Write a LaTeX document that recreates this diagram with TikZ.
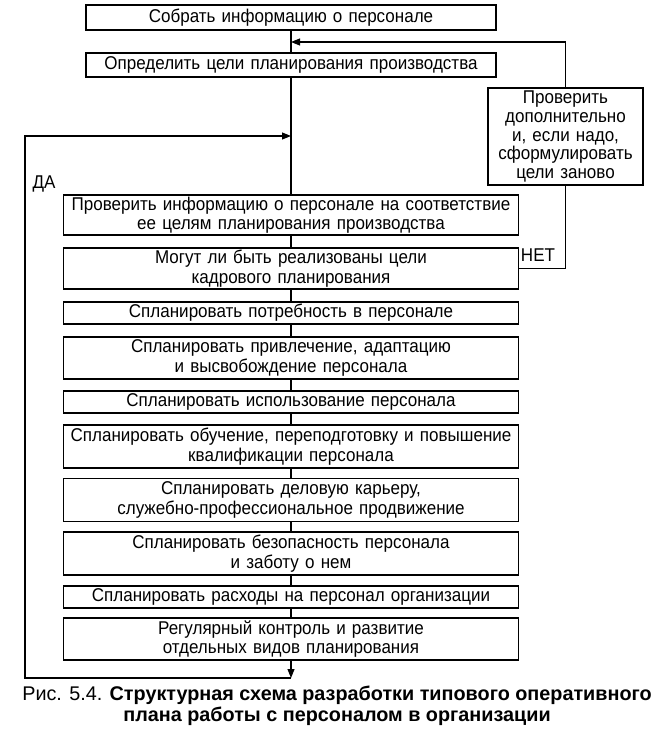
\documentclass[tikz,border=0pt]{standalone}
\usepackage{fontspec}
\setmainfont{Liberation Sans}
\newfontfamily\narrowfont[FakeStretch=0.92]{Liberation Sans}
\usetikzlibrary{arrows.meta}

\tikzset{
  stepbox/.style={draw, line width=1.3pt, align=center, inner xsep=1pt, inner ysep=0pt,
    font=\narrowfont\fontsize{18.5}{19.5}\selectfont},
  widebox/.style={stepbox, text width=453pt},
  flow/.style={line width=1.1pt},
  tip/.style={-{Triangle[length=9pt,width=7pt]}},
  answer/.style={font=\narrowfont\fontsize{18.5}{20}\selectfont, inner sep=0pt},
}

\begin{document}
\begin{tikzpicture}[x=1pt,y=-1pt]
  \useasboundingbox (0,0) rectangle (665,744);
  % main column
  \node[stepbox, text width=408pt, minimum height=25pt] (collect) at (291,17.5) {Собрать информацию о персонале};
  \node[stepbox, text width=408pt, minimum height=24pt] (goals) at (291,65) {Определить цели планирования производства};
  \node[widebox, minimum height=40pt] (verify) at (291,215) {Проверить информацию о персонале на соответствие\\ее целям планирования производства};
  \node[widebox, minimum height=41pt] (canreal) at (291,268.5) {Могут ли быть реализованы цели\\кадрового планирования};
  \node[widebox, minimum height=22pt] (need) at (291,313) {Спланировать потребность в персонале};
  \node[widebox, minimum height=42pt] (attract) at (291,358) {Спланировать привлечение, адаптацию\\и высвобождение персонала};
  \node[widebox, minimum height=22pt] (usage) at (291,402) {Спланировать использование персонала};
  \node[widebox, minimum height=43pt] (train) at (291,446.5) {Спланировать обучение, переподготовку и повышение\\квалификации персонала};
  \node[widebox, minimum height=43pt] (career) at (291,500) {Спланировать деловую карьеру,\\служебно-профессиональное продвижение};
  \node[widebox, minimum height=43pt] (safety) at (291,553.5) {Спланировать безопасность персонала\\и заботу о нем};
  \node[widebox, minimum height=22pt] (cost) at (291,597) {Спланировать расходы на персонал организации};
  \node[widebox, minimum height=42pt] (control) at (291,639) {Регулярный контроль и развитие\\отдельных видов планирования};
  % side box
  \node[stepbox, text width=153pt, minimum height=97pt, font=\narrowfont\fontsize{18.5}{18.8}\selectfont] (recheck) at (565.5,136.5) {Проверить\\дополнительно\\и, если надо,\\сформулировать\\цели заново};
  \node[answer] (yes) at (44,184) {ДА};
  \node[answer] (no) at (538,255) {НЕТ};
  \coordinate (topjoin) at (291,42);
  \coordinate (loopjoin) at (291,136);
  \coordinate (loopend) at (291,678);
  \coordinate (loopbl) at (25,678);
  \coordinate (looptl) at (25,136);
  \begin{scope}[flow]
    \draw (collect) -- (goals);
    \draw (goals) -- (verify);
    \foreach \a/\b in {verify/canreal, canreal/need, need/attract, attract/usage,
      usage/train, train/career, career/safety, safety/cost, cost/control}
      \draw (\a) -- (\b);
    \draw[tip] (recheck.north) |- (topjoin);
    \draw (recheck.south) |- (canreal.east);
    \draw[tip] (control.south) -- (loopend);
    \draw[tip] (loopend) -- (loopbl) -- (looptl) -- (loopjoin);
  \end{scope}
  % caption
  \node[font=\fontsize{19.8}{21}\selectfont, align=center] (caption) at (337,706)
    {Рис. 5.4. \textbf{Структурная схема разработки типового оперативного}\\
     \textbf{плана работы с персоналом в организации}};
\end{tikzpicture}
\end{document}
